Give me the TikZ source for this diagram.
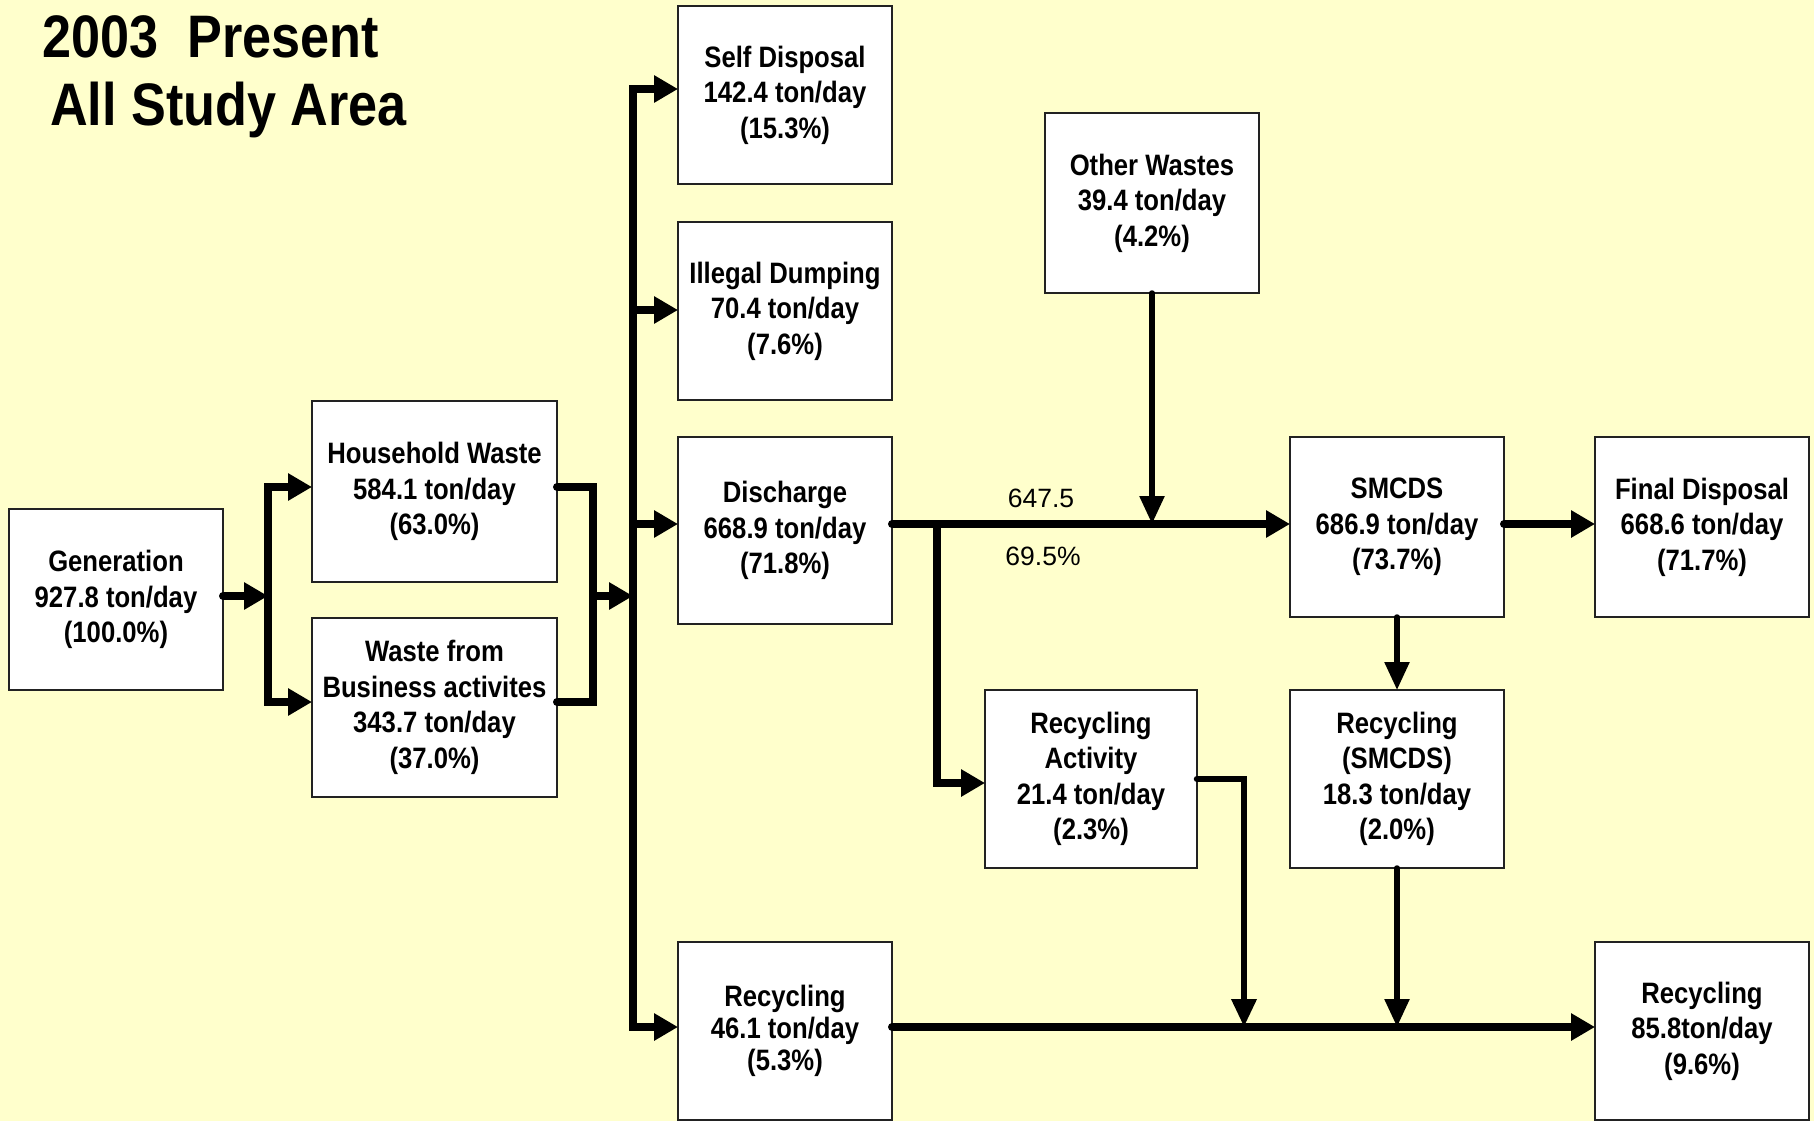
\documentclass[tikz,border=0pt]{standalone}
\usepackage{fontspec}
\usetikzlibrary{arrows.meta,calc}
\newfontfamily\boxfont{Liberation Sans}[FakeStretch=0.87]
\newfontfamily\lblfont{Liberation Sans}
\definecolor{bgyellow}{HTML}{FFFFCC}
\definecolor{boxline}{HTML}{222222}
\tikzset{
  wbox/.style={draw=boxline, line width=1.6pt, fill=white, inner sep=0pt, outer sep=0pt,
    align=center, font=\boxfont\bfseries\fontsize{29.5}{35.5}\selectfont},
  thickline/.style={line width=8pt, line cap=round, line join=miter},
  thinline/.style={line width=5.5pt, line cap=round, line join=miter},
  thicktip/.style={-{Triangle[length=24pt,width=26pt]}},
  thintip/.style={-{Triangle[length=28pt,width=24pt]}},
  lbl/.style={font=\lblfont\fontsize{26.5}{30}\selectfont, inner sep=0pt, anchor=base},
  ttl/.style={font=\boxfont\bfseries\fontsize{60}{67}\selectfont, inner sep=0pt, anchor=base west}
}
\begin{document}
\begin{tikzpicture}[x=1pt,y=-1pt]
\fill[bgyellow] (0,0) rectangle (1814,1121);
\useasboundingbox (0,0) rectangle (1814,1121);

% title
\node[ttl] (t1) at (42,58) {2003\ \ Present};
\node[ttl] (t2) at (50,125) {All Study Area};

% boxes
\node[wbox, minimum width=214pt, minimum height=181pt] (gen) at (116,599.5) {Generation\\927.8 ton/day\\(100.0\%)};
\node[wbox, minimum width=245pt, minimum height=181pt] (hw) at (434.5,491.5) {Household Waste\\584.1 ton/day\\(63.0\%)};
\node[wbox, minimum width=245pt, minimum height=179pt] (bw) at (434.5,707.5) {Waste from\\Business activites\\343.7 ton/day\\(37.0\%)};
\node[wbox, minimum width=214pt, minimum height=178pt] (self) at (785,95) {Self Disposal\\142.4 ton/day\\(15.3\%)};
\node[wbox, minimum width=214pt, minimum height=178pt] (ill) at (785,311) {Illegal Dumping\\70.4 ton/day\\(7.6\%)};
\node[wbox, minimum width=214pt, minimum height=187pt] (dis) at (785,530.5) {Discharge\\668.9 ton/day\\(71.8\%)};
\node[wbox, minimum width=214pt, minimum height=178pt, font=\boxfont\bfseries\fontsize{29.5}{32}\selectfont] (rec) at (785,1031) {Recycling\\46.1 ton/day\\(5.3\%)};
\node[wbox, minimum width=214pt, minimum height=180pt] (ow) at (1152,203) {Other Wastes\\39.4 ton/day\\(4.2\%)};
\node[wbox, minimum width=214pt, minimum height=180pt] (smcds) at (1397,527) {SMCDS\\686.9 ton/day\\(73.7\%)};
\node[wbox, minimum width=214pt, minimum height=180pt] (fd) at (1702,527) {Final Disposal\\668.6 ton/day\\(71.7\%)};
\node[wbox, minimum width=212pt, minimum height=178pt] (ra) at (1091,779) {Recycling\\Activity\\21.4 ton/day\\(2.3\%)};
\node[wbox, minimum width=214pt, minimum height=178pt] (rs) at (1397,779) {Recycling\\(SMCDS)\\18.3 ton/day\\(2.0\%)};
\node[wbox, minimum width=214pt, minimum height=178pt] (rec85) at (1702,1031) {Recycling\\85.8ton/day\\(9.6\%)};

% junction coordinates
\coordinate (gsplit) at (268,596);
\coordinate (g1) at (268,487);
\coordinate (g2) at (268,702);
\coordinate (m1) at (593,487);
\coordinate (m2) at (593,702);
\coordinate (msplit) at (593,596);
\coordinate (bmid) at (633,596);
\coordinate (btop) at (633,89);
\coordinate (bill) at (633,310);
\coordinate (bdis) at (633,524);
\coordinate (bbot) at (633,1027);
\coordinate (d0) at (937,524);
\coordinate (d1) at (937,783);
\coordinate (r0) at (1244,779);
\coordinate (rbus) at (1244,1027);

% generation split
\draw[thickline, thicktip] (gen.east |- gsplit) -- (gsplit);
\draw[thickline, {Triangle[length=24pt,width=26pt]}-{Triangle[length=24pt,width=26pt]}] (hw.west |- g1) -- (g1) -- (g2) -- (bw.west |- g2);

% merge
\draw[thickline] (hw.east |- m1) -- (m1) -- (m2) -- (bw.east |- m2);
\draw[thickline, thicktip] (msplit) -- (bmid);

% bus
\draw[thickline, {Triangle[length=24pt,width=26pt]}-{Triangle[length=24pt,width=26pt]}] (self.west |- btop) -- (btop) -- (bbot) -- (rec.west |- bbot);
\draw[thickline, thicktip] (bill) -- (ill.west |- bill);
\draw[thickline, thicktip] (bdis) -- (dis.west |- bdis);

% discharge flows
\draw[thickline, thicktip] (dis.east |- d0) -- (smcds.west |- d0);
\draw[thickline, thicktip] (d0) -- (d1) -- (ra.west |- d1);
\draw[thinline, thintip] (ow.south) -- (ow.south |- d0);
\draw[thickline, thicktip] (smcds.east |- d0) -- (fd.west |- d0);
\draw[thinline, thintip] (smcds.south) -- (rs.north);

% recycling flows
\draw[line width=6.5pt, line cap=round, line join=miter, thintip] (ra.east |- r0) -- (r0) -- (rbus);
\draw[thinline, thintip] (rs.south) -- (rs.south |- rbus);
\draw[thickline, thicktip] (rec.east |- rbus) -- (rec85.west |- rbus);

% flow labels
\node[lbl] (l1) at (1041,507) {647.5};
\node[lbl] (l2) at (1043,565) {69.5\%};
\end{tikzpicture}
\end{document}
